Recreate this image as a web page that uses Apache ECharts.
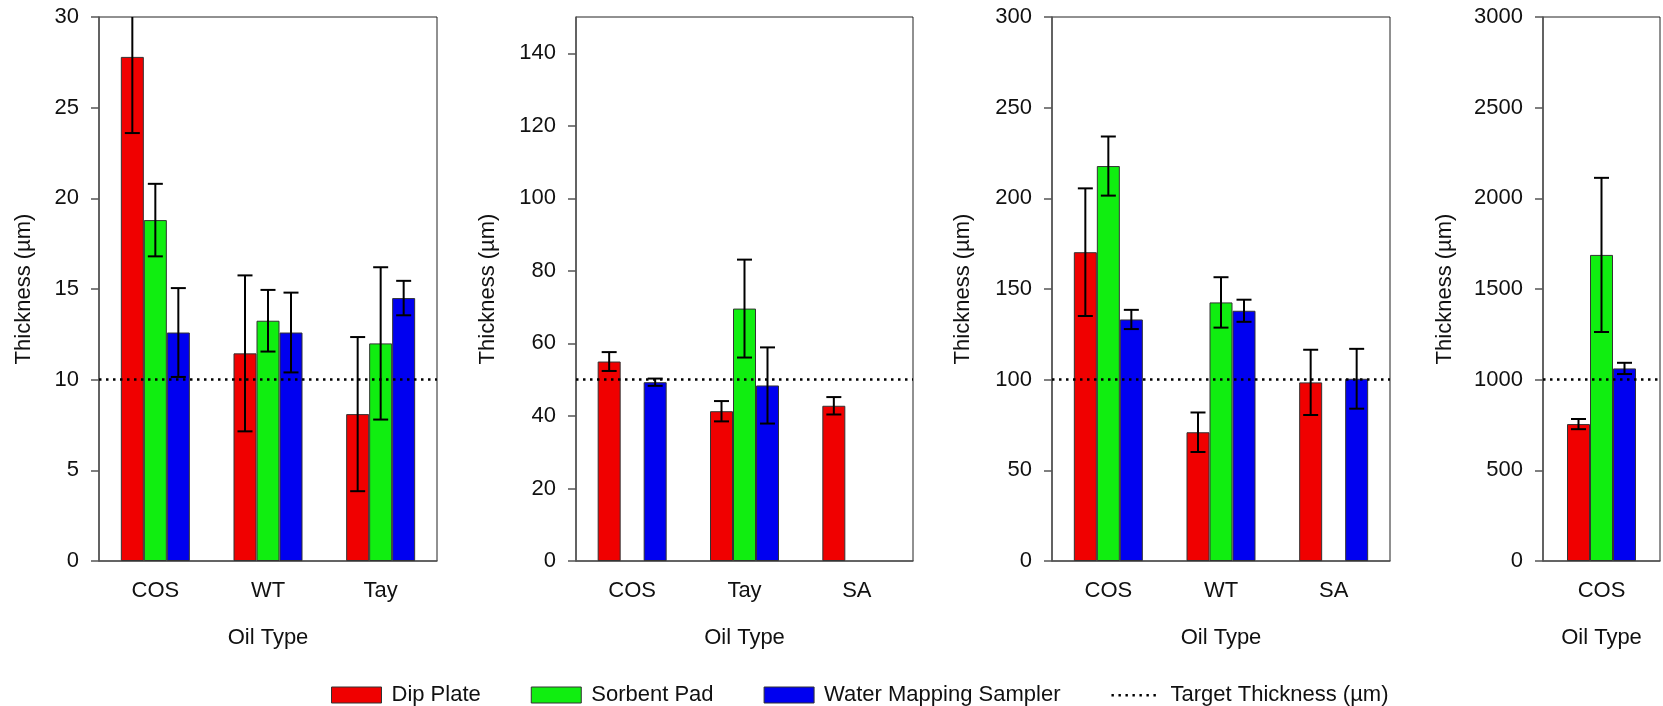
<!DOCTYPE html>
<html>
<head>
<meta charset="utf-8">
<script src="https://cdn.jsdelivr.net/npm/echarts@6/dist/echarts.min.js"></script>
<style>
  html, body { margin: 0; padding: 0; background: #fff; }
  #chart { width: 1663px; height: 706px; }
</style>
</head>
<body>
<div id="chart"></div>
<script>
// ---------------- DATA ----------------
const seriesNames = ['Dip Plate', 'Sorbent Pad', 'Water Mapping Sampler'];
const targetName = 'Target Thickness (\u00b5m)';

// Panel 1
const p1Categories = ['COS', 'WT', 'Tay'];
const p1Dip = [27.8, 11.45, 8.1];
const p1DipErr = [4.2, 4.3, 4.25];
const p1Sorbent = [18.8, 13.25, 12.0];
const p1SorbentErr = [2.0, 1.7, 4.2];
const p1Water = [12.6, 12.6, 14.5];
const p1WaterErr = [2.45, 2.2, 0.95];
const p1Ticks = [0, 5, 10, 15, 20, 25, 30];
const p1Target = 10;

// Panel 2
const p2Categories = ['COS', 'Tay', 'SA'];
const p2Dip = [55.0, 41.3, 42.8];
const p2DipErr = [2.6, 2.8, 2.4];
const p2Sorbent = [null, 69.6, null];
const p2SorbentErr = [null, 13.5, null];
const p2Water = [49.3, 48.4, null];
const p2WaterErr = [1.0, 10.5, null];
const p2Ticks = [0, 20, 40, 60, 80, 100, 120, 140];
const p2Max = 150;
const p2Target = 50;

// Panel 3
const p3Categories = ['COS', 'WT', 'SA'];
const p3Dip = [170.3, 71.0, 98.5];
const p3DipErr = [35.2, 10.9, 18.0];
const p3Sorbent = [217.8, 142.6, null];
const p3SorbentErr = [16.3, 13.9, null];
const p3Water = [133.2, 138.0, 100.5];
const p3WaterErr = [5.3, 6.1, 16.5];
const p3Ticks = [0, 50, 100, 150, 200, 250, 300];
const p3Target = 100;

// Panel 4
const p4Categories = ['COS'];
const p4Dip = [755];
const p4DipErr = [28];
const p4Sorbent = [1688];
const p4SorbentErr = [425];
const p4Water = [1062];
const p4WaterErr = [31];
const p4Ticks = [0, 500, 1000, 1500, 2000, 2500, 3000];
const p4Target = 1000;

// ---------------- STYLE ----------------
const colors = ['#f00000', '#10ee10', '#0000f0'];
const BAR_W = 23;
const CAP_W = 15;
const FONT = '"Liberation Sans", Arial, sans-serif';
const AXIS_COLOR = '#555';

const panels = [
  { cats: p1Categories, vals: [p1Dip, p1Sorbent, p1Water], errs: [p1DipErr, p1SorbentErr, p1WaterErr],
    ticks: p1Ticks, max: p1Ticks[p1Ticks.length - 1], target: p1Target,
    grid: { left: 99, width: 338 }, nameGap: 64 },
  { cats: p2Categories, vals: [p2Dip, p2Sorbent, p2Water], errs: [p2DipErr, p2SorbentErr, p2WaterErr],
    ticks: p2Ticks, max: p2Max, target: p2Target,
    grid: { left: 576, width: 337 }, nameGap: 77 },
  { cats: p3Categories, vals: [p3Dip, p3Sorbent, p3Water], errs: [p3DipErr, p3SorbentErr, p3WaterErr],
    ticks: p3Ticks, max: p3Ticks[p3Ticks.length - 1], target: p3Target,
    grid: { left: 1052, width: 338 }, nameGap: 78 },
  { cats: p4Categories, vals: [p4Dip, p4Sorbent, p4Water], errs: [p4DipErr, p4SorbentErr, p4WaterErr],
    ticks: p4Ticks, max: p4Ticks[p4Ticks.length - 1], target: p4Target,
    grid: { left: 1543, width: 117 }, nameGap: 87 }
];

const grids = [], xAxes = [], yAxes = [], series = [];

function errRender(offset) {
  return function (params, api) {
    const v = api.value(1);
    const e = api.value(2);
    if (v == null || isNaN(v) || e == null || isNaN(e)) return null;
    const cs = params.coordSys;
    const cx = api.coord([api.value(0), 0])[0] + offset;
    let yTop = api.coord([api.value(0), v + e])[1];
    let yBot = api.coord([api.value(0), v - e])[1];
    const minY = cs.y, maxY = cs.y + cs.height;
    yTop = Math.max(minY, Math.min(maxY, yTop));
    yBot = Math.max(minY, Math.min(maxY, yBot));
    const style = { stroke: '#000', lineWidth: 2 };
    const children = [
      { type: 'line', shape: { x1: cx, y1: yTop, x2: cx, y2: yBot }, style: style }
    ];
    if (yTop > minY) children.push({ type: 'line', shape: { x1: cx - CAP_W / 2, y1: yTop, x2: cx + CAP_W / 2, y2: yTop }, style: style });
    children.push({ type: 'line', shape: { x1: cx - CAP_W / 2, y1: yBot, x2: cx + CAP_W / 2, y2: yBot }, style: style });
    return { type: 'group', children: children };
  };
}

panels.forEach(function (p, gi) {
  grids.push({
    left: p.grid.left, width: p.grid.width, top: 17, height: 544,
    show: true, borderColor: '#222', borderWidth: 1, backgroundColor: 'transparent'
  });
  xAxes.push({
    type: 'category', gridIndex: gi, data: p.cats,
    name: 'Oil Type', nameLocation: 'middle', nameGap: 66,
    nameTextStyle: { fontFamily: FONT, fontSize: 22, color: '#111' },
    axisLine: { lineStyle: { color: AXIS_COLOR, width: 1.5 } },
    axisTick: { alignWithLabel: true, length: 6, lineStyle: { color: AXIS_COLOR, width: 1.5 } },
    axisLabel: { fontFamily: FONT, fontSize: 22, color: '#111', margin: 19 },
    splitLine: { show: false }
  });
  yAxes.push({
    type: 'value', gridIndex: gi, min: 0, max: p.max,
    name: 'Thickness (\u00b5m)', nameLocation: 'middle', nameGap: p.nameGap,
    nameTextStyle: { fontFamily: FONT, fontSize: 22, color: '#111' },
    axisLine: { show: true, lineStyle: { color: AXIS_COLOR, width: 1.5 } },
    axisTick: { show: true, length: 8, customValues: p.ticks, lineStyle: { color: AXIS_COLOR, width: 1.5 } },
    axisLabel: { fontFamily: FONT, fontSize: 22, color: '#111', margin: 20, customValues: p.ticks,
      formatter: function (v) { return String(v); } },
    splitLine: { show: false }
  });
  // target line (behind bars)
  series.push({
    name: targetName, type: 'line', xAxisIndex: gi, yAxisIndex: gi,
    data: p.cats.map(function () { return '-'; }),
    symbol: 'none', z: 1, color: '#000',
    lineStyle: { color: '#000', width: 2.5, type: [2.5, 4.5] },
    markLine: {
      silent: true, symbol: 'none', label: { show: false },
      lineStyle: { color: '#000', width: 2.5, type: [2.5, 4.5] },
      data: [{ yAxis: p.target }]
    }
  });
  seriesNames.forEach(function (nm, si) {
    series.push({
      name: nm, type: 'bar', xAxisIndex: gi, yAxisIndex: gi,
      data: p.vals[si], barWidth: BAR_W, barGap: '0%', z: 2,
      itemStyle: { color: colors[si], borderColor: '#333', borderWidth: 1 }
    });
  });
  seriesNames.forEach(function (nm, si) {
    series.push({
      type: 'custom', xAxisIndex: gi, yAxisIndex: gi, z: 3, silent: true,
      renderItem: errRender((si - 1) * BAR_W),
      encode: { x: 0, y: 1 },
      data: p.vals[si].map(function (v, i) { return [i, v, p.errs[si][i]]; })
    });
  });
});

// dotted legend icon: 7 small dots across a 50x16 box
let dotPath = 'path://M0,0h0.01v0.01h-0.01z M49.99,16h0.01v0.01h-0.01z';
for (let k = 0; k < 7; k++) {
  dotPath += ' M' + (k * 7 + 1) + ',7h2.4v2.4h-2.4z';
}

const chart = echarts.init(document.getElementById('chart'), null, { renderer: 'canvas' });
chart.setOption({
  animation: false,
  backgroundColor: '#fff',
  grid: grids,
  xAxis: xAxes,
  yAxis: yAxes,
  legend: {
    left: 326, top: 679,
    itemWidth: 50, itemHeight: 16, itemGap: 50,
    data: [
      { name: 'Dip Plate', icon: 'rect' },
      { name: 'Sorbent Pad', icon: 'rect' },
      { name: 'Water Mapping Sampler', icon: 'rect' },
      { name: targetName, icon: dotPath, itemStyle: { color: '#000', borderWidth: 0 } }
    ],
    textStyle: { fontFamily: FONT, fontSize: 22, color: '#111', padding: [0, 0, 0, 5] },
    itemStyle: { borderColor: '#333', borderWidth: 1 }
  },
  series: series
});
</script>
</body>
</html>
